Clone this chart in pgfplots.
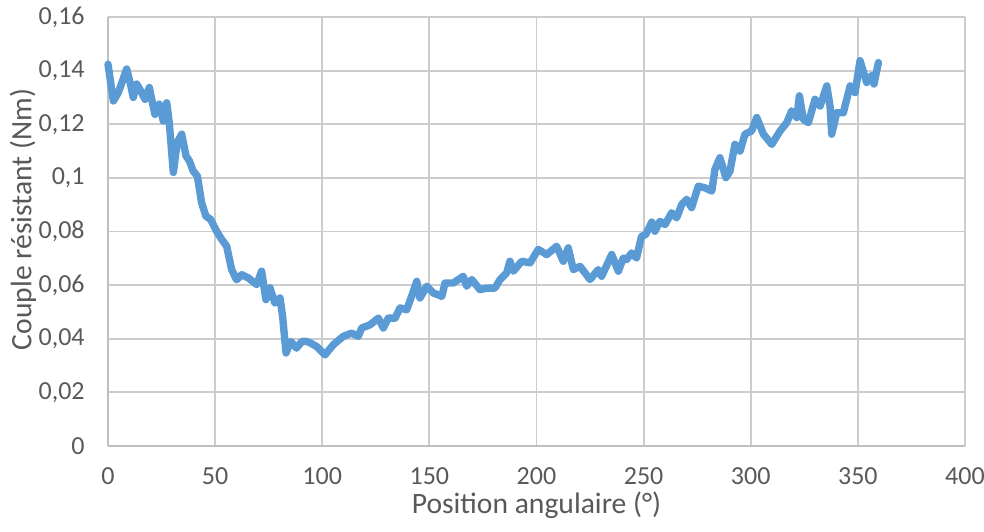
\documentclass[border=0pt]{standalone}
\usepackage{fontspec}
\setmainfont{Carlito}
\usepackage{pgfplots}
\pgfplotsset{compat=1.18}
\definecolor{serie}{HTML}{5B9BD5}
\definecolor{gridc}{RGB}{204,204,204}
\definecolor{axc}{RGB}{191,191,191}
\definecolor{txt}{RGB}{89,89,89}
\begin{document}
\begin{tikzpicture}
\path[use as bounding box] (-54pt,-42.5pt) rectangle (438pt,223pt);
\begin{axis}[
  scale only axis,
  width=428.5pt, height=214.5pt,
  xmin=0, xmax=400, ymin=0, ymax=0.16,
  xtick={0,50,...,400},
  ytick={0,0.02,...,0.16},
  grid=major,
  major grid style={gridc, line width=0.9pt},
  axis line style={axc, line width=1pt},
  axis x line*=bottom, axis y line*=left,
  tick style={draw=none},
  every tick label/.append style={font=\fontsize{13}{15}\selectfont, text=txt},
  /pgf/number format/assume math mode=true,
  /pgf/number format/use comma,
  /pgf/number format/1000 sep={},
  yticklabel style={/pgf/number format/fixed, /pgf/number format/precision=2, anchor=east, inner sep=0pt, xshift=-11.5pt},
  xticklabel style={anchor=center, inner sep=0pt, yshift=-15pt},
  xlabel={Position angulaire (°)},
  ylabel={Couple résistant (Nm)},
  every axis x label/.style={at={(axis description cs:0.5,0)}, anchor=center, inner sep=0pt, yshift=-29.5pt, font=\fontsize{14.8}{17}\selectfont, text=txt},
  every axis y label/.style={at={(axis description cs:0,0.5)}, anchor=center, rotate=90, inner sep=0pt, xshift=6pt, yshift=42.5pt, font=\fontsize{14.8}{17}\selectfont, text=txt},
  clip=false,
]
\addplot[serie, line width=3.7pt, line join=round, line cap=round] coordinates {
(0,0.1424) (2.5,0.1287) (4.8,0.1318) (6.8,0.1362) (8.7,0.1406) (10.3,0.1356)
(11.8,0.130) (13.4,0.135) (14.9,0.133) (17.3,0.1293) (19.3,0.1337) (20.4,0.1293)
(21.9,0.1237) (23.9,0.1275) (25.8,0.1212) (27.4,0.128) (28.6,0.1206) (30.5,0.102)
(32.3,0.1132) (34.4,0.1163) (36.4,0.1082) (38,0.1063) (39.8,0.1025) (41.7,0.1007)
(43.7,0.0907) (45.7,0.0857) (47.9,0.0845) (50.7,0.0801) (53.1,0.077) (55.4,0.0745)
(57.7,0.0658) (60,0.062) (62.4,0.0639) (65.5,0.0627) (69.4,0.0602) (71.7,0.0652)
(73.7,0.0546) (75.6,0.059) (77.9,0.0533) (80.3,0.0552) (81.5,0.0483) (83.1,0.0347)
(85.3,0.039) (88,0.0365) (90.5,0.039) (92.7,0.039) (94.3,0.0385) (97.4,0.0371)
(101.3,0.034) (105.2,0.0378) (109.8,0.0409) (113.7,0.0421) (116.8,0.0409) (118.4,0.044)
(122.3,0.0452) (126.2,0.0477) (128.5,0.044) (130.8,0.0477) (134,0.0477) (136.3,0.0515)
(139.4,0.0508) (141.7,0.0558) (144.1,0.0614) (145.6,0.0552) (148.8,0.0596) (151.8,0.0571)
(155.8,0.0558) (157.3,0.0608) (161.2,0.0608) (165.8,0.0633) (167.4,0.0596) (169.8,0.0621)
(173.6,0.0583) (176.8,0.0589) (180.6,0.0589) (183,0.0621) (186.1,0.0646) (187.6,0.0689)
(189.2,0.0652) (193.1,0.0689) (197,0.0683) (200.8,0.0733) (204.8,0.0714) (209.4,0.0745)
(212.5,0.0689) (214.8,0.0739) (217.2,0.0658) (220.3,0.067) (225,0.0621) (228.8,0.0658)
(230.4,0.0633) (235.1,0.0714) (238.2,0.0652) (240.5,0.0701) (242,0.0695) (244.4,0.072)
(246.7,0.0701) (249,0.0782) (251,0.0789) (253.8,0.0835) (255.3,0.0801) (257.6,0.0838)
(260,0.0826) (263.1,0.087) (265.4,0.0851) (267.8,0.0901) (270.1,0.092) (272.4,0.0889)
(275.5,0.0969) (278.6,0.0963) (281.8,0.0951) (283.3,0.1032) (285.6,0.1075) (288.4,0.1001)
(290.3,0.1025) (292.6,0.1125) (295,0.11) (297.3,0.1163) (300.4,0.1175) (302.8,0.1225)
(305.9,0.1163) (309.8,0.1125) (313.7,0.1175) (316.8,0.1206) (319.1,0.125) (321.5,0.1225)
(322.7,0.1306) (324.5,0.1219) (326.9,0.1206) (330,0.1293) (332.4,0.1268) (335.5,0.1343)
(337,0.1268) (337.8,0.1163) (340.1,0.1243) (343.2,0.1243) (346.4,0.1343) (348.7,0.1318)
(351,0.1437) (354.1,0.1356) (356.4,0.1381) (357.5,0.135) (359.6,0.143)
};
\end{axis}
\end{tikzpicture}
\end{document}
